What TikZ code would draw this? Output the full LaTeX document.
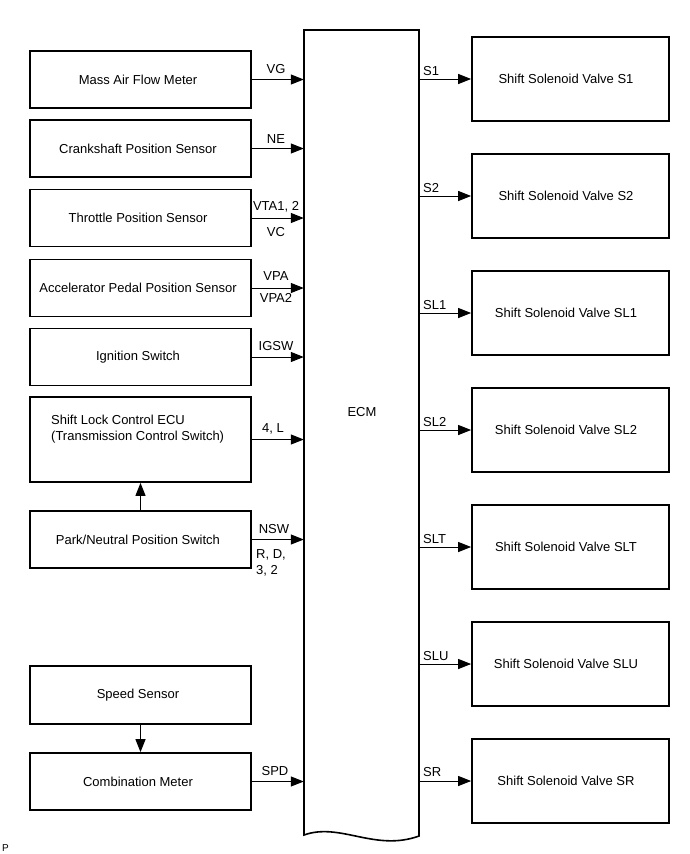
\documentclass[tikz,border=0pt]{standalone}
\usepackage{fontspec}
\setmainfont{Liberation Sans}
\usetikzlibrary{arrows.meta}
\begin{document}
\begin{tikzpicture}[x=1pt,y=-1pt,
  every node/.style={font=\fontsize{13}{16}\selectfont},
  lbox/.style={draw,line width=1.7pt,minimum width=221pt,minimum height=57pt,inner sep=0pt,execute at begin node={\hspace*{-5pt}}},
  rbox/.style={draw,line width=1.7pt,minimum width=197pt,minimum height=84pt,inner sep=0pt,execute at begin node={\hspace*{-9pt}}},
  sig/.style={line width=1pt,-{Triangle[length=13pt,width=10pt]}},
  lab/.style={inner sep=0pt}]
\useasboundingbox (0,0) rectangle (690,854);
% ECM
\node[minimum width=115pt,minimum height=805pt,inner sep=0pt] (ecm) at (361.5,432.5) {};
\draw[line width=1.6pt] (304,835) -- (304,30) -- (419,30) -- (419,836)
  .. controls (375,852) and (340,822) .. (304,835) -- cycle;
\node[lab] (ecmlab) at (362,412) {ECM};
% left boxes
\node[lbox] (maf) at (140.5,79.5) {Mass Air Flow Meter};
\node[lbox] (crank) at (140.5,148.5) {Crankshaft Position Sensor};
\node[lbox] (tps) at (140.5,218) {Throttle Position Sensor};
\node[lbox] (apps) at (140.5,288) {Accelerator Pedal Position Sensor};
\node[lbox] (ign) at (140.5,357) {Ignition Switch};
\node[draw,line width=1.7pt,minimum width=221pt,minimum height=85pt,inner sep=0pt] (slc) at (140.5,439.5) {};
\node[lab,anchor=north west,align=left] (slctext) at (51,415) {Shift Lock Control ECU\\(Transmission Control Switch)};
\node[lbox] (pnp) at (140.5,539.5) {Park/Neutral Position Switch};
\node[lbox,minimum height=58pt] (spd) at (140.5,695) {Speed Sensor};
\node[lbox] (comb) at (140.5,781.5) {Combination Meter};
% right boxes
\node[rbox] (s1) at (570.5,79) {Shift Solenoid Valve S1};
\node[rbox] (s2) at (570.5,196) {Shift Solenoid Valve S2};
\node[rbox] (sl1) at (570.5,313) {Shift Solenoid Valve SL1};
\node[rbox] (sl2) at (570.5,430) {Shift Solenoid Valve SL2};
\node[rbox] (slt) at (570.5,547) {Shift Solenoid Valve SLT};
\node[rbox] (slu) at (570.5,664) {Shift Solenoid Valve SLU};
\node[rbox] (sr) at (570.5,781) {Shift Solenoid Valve SR};
% input connectors
\draw[sig] (maf.east) -- (maf.east -| ecm.west);
\draw[sig] (crank.east) -- (crank.east -| ecm.west);
\draw[sig] (tps.east) -- (tps.east -| ecm.west);
\draw[sig] (apps.east) -- (apps.east -| ecm.west);
\draw[sig] (ign.east) -- (ign.east -| ecm.west);
\draw[sig] (slc.east) -- (slc.east -| ecm.west);
\draw[sig] (pnp.east) -- (pnp.east -| ecm.west);
\draw[sig] (comb.east) -- (comb.east -| ecm.west);
\draw[sig] (pnp.north) -- (slc.south);
\draw[sig] (spd.south) -- (comb.north);
% output connectors
\foreach \n in {s1,s2,sl1,sl2,slt,slu,sr}
  \draw[sig] (ecm.east |- \n.west) -- (\n.west);
% input labels
\node[lab] (lvg) at (276,69.5) {VG};
\node[lab] (lne) at (276,139) {NE};
\node[lab] (lvta) at (276,207) {VTA1, 2};
\node[lab] (lvc) at (276,232) {VC};
\node[lab] (lvpa) at (276,276) {VPA};
\node[lab] (lvpa2) at (276,298) {VPA2};
\node[lab] (ligsw) at (276,346) {IGSW};
\node[lab] (l4l) at (273,429) {4, L};
\node[lab] (lnsw) at (274,529) {NSW};
\node[lab,anchor=west] (lrd) at (256,555) {R, D,};
\node[lab,anchor=west] (l32) at (256,571) {3, 2};
\node[lab] (lspd) at (275,771) {SPD};
% output labels
\node[lab,anchor=west] (ls1) at (423,71) {S1};
\node[lab,anchor=west] (ls2) at (423,188) {S2};
\node[lab,anchor=west] (lsl1) at (423,305) {SL1};
\node[lab,anchor=west] (lsl2) at (423,422) {SL2};
\node[lab,anchor=west] (lslt) at (423,539) {SLT};
\node[lab,anchor=west] (lslu) at (423,656) {SLU};
\node[lab,anchor=west] (lsr) at (423,772) {SR};
\node[lab,anchor=west,font=\fontsize{10}{12}\selectfont] (p) at (2,848) {P};
\end{tikzpicture}
\end{document}
